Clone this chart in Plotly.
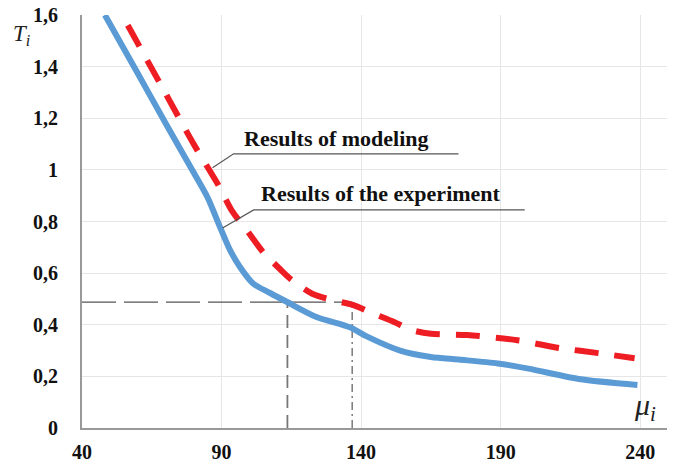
import plotly.graph_objects as go

# Blue solid curve
blue_x = [48.2, 60, 70, 80, 85, 89, 93, 96.6, 101.3, 107.4, 113.5, 124, 136, 142, 154, 165, 175, 189, 200, 218, 239]
blue_y = [1.6, 1.373, 1.18, 0.99, 0.893, 0.79, 0.69, 0.624, 0.56, 0.523, 0.488, 0.43, 0.39, 0.355, 0.30, 0.275, 0.265, 0.25, 0.23, 0.19, 0.167]

# Red dashed curve
red_x = [56.4, 70, 80, 88.9, 93.8, 99, 105, 111, 115, 122.5, 130, 137, 144, 152, 158, 165, 178, 196, 211, 225, 238]
red_y = [1.56, 1.295, 1.10, 0.94, 0.84, 0.767, 0.68, 0.615, 0.575, 0.52, 0.495, 0.477, 0.445, 0.41, 0.38, 0.365, 0.36, 0.34, 0.31, 0.29, 0.27]

# reference (guide) lines
ref_level = 0.488
ref_x1 = 113.6
ref_x2 = 136.8

x_ticks = [40, 90, 140, 190, 240]
y_ticks = [0, 0.2, 0.4, 0.6, 0.8, 1.0, 1.2, 1.4, 1.6]
y_tick_labels = ["0", "0,2", "0,4", "0,6", "0,8", "1", "1,2", "1,4", "1,6"]

label_model = "Results of modeling"
label_exp = "Results of the experiment"

fig = go.Figure()

# guide lines
fig.add_trace(go.Scatter(x=[40, ref_x2], y=[ref_level, ref_level], mode="lines",
                         line=dict(color="#555555", width=1.2, dash="34px,8px"),
                         showlegend=False, hoverinfo="skip"))
fig.add_trace(go.Scatter(x=[ref_x1, ref_x1], y=[0, ref_level], mode="lines",
                         line=dict(color="#777777", width=1.8, dash="13px,7px"),
                         showlegend=False, hoverinfo="skip"))
fig.add_trace(go.Scatter(x=[ref_x2, ref_x2], y=[0, ref_level], mode="lines",
                         line=dict(color="#666666", width=1.3, dash="8px,4px,2px,4px"),
                         showlegend=False, hoverinfo="skip"))

fig.add_trace(go.Scatter(x=blue_x, y=blue_y, mode="lines",
                         line=dict(color="#5B9BD5", width=6, shape="spline", smoothing=0.8),
                         showlegend=False))
fig.add_trace(go.Scatter(x=red_x, y=red_y, mode="lines",
                         line=dict(color="#EE1D23", width=6, shape="spline", smoothing=0.8,
                                   dash="24px,16px"),
                         showlegend=False))

def px_to_x(px):
    return 40 + (px - 82) / 2.78
def px_to_y(py):
    return (428 - py) / 258.0

lead1 = [(212, 168), (233, 154), (457, 154)]
lead2 = [(222, 228), (253, 210), (523, 210)]
for lead in (lead1, lead2):
    fig.add_trace(go.Scatter(x=[px_to_x(p[0]) for p in lead], y=[px_to_y(p[1]) for p in lead],
                             mode="lines", line=dict(color="#555555", width=1.2),
                             showlegend=False, hoverinfo="skip"))

font_bold = dict(family="Liberation Serif", size=22, color="#111111", weight="bold")
fig.add_annotation(x=px_to_x(241), y=px_to_y(153), text=label_model, showarrow=False,
                   xanchor="left", yanchor="bottom", font=font_bold)
fig.add_annotation(x=px_to_x(258), y=px_to_y(208), text=label_exp, showarrow=False,
                   xanchor="left", yanchor="bottom", font=font_bold)

# axis titles
fig.add_annotation(xref="paper", yref="paper", x=-0.122, y=0.99, text="<i>T</i><sub><i>i</i></sub>",
                   showarrow=False, xanchor="left", yanchor="top",
                   font=dict(family="Liberation Serif", size=23, color="#222222"))
fig.add_annotation(x=px_to_x(630), y=px_to_y(428), text="<i>μ</i><sub><i>i</i></sub>",
                   showarrow=False, xanchor="left", yanchor="bottom",
                   font=dict(family="Liberation Serif", size=30, color="#222222"))

tickfont = dict(family="Liberation Serif", size=20, color="#111111", weight="bold")
fig.update_layout(
    width=677, height=466,
    margin=dict(l=82, r=10, t=15, b=38),
    plot_bgcolor="white", paper_bgcolor="white",
    xaxis=dict(range=[40, 249.6], tickvals=x_ticks, ticktext=[str(v) for v in x_ticks],
               showgrid=True, gridcolor="#E6E6E6", gridwidth=1,
               showline=True, linecolor="#999999", linewidth=2,
               zeroline=False, tickfont=tickfont, ticks="", ticklabelstandoff=5,
               automargin=False),
    yaxis=dict(range=[0, 1.6], tickvals=y_ticks, ticktext=y_tick_labels,
               showgrid=True, gridcolor="#E6E6E6", gridwidth=1,
               showline=True, linecolor="#999999", linewidth=2,
               zeroline=False, tickfont=tickfont, ticks="", ticklabelstandoff=18,
               automargin=False),
)

fig.write_html("out.html", config={"displayModeBar": False},
               post_script="document.body.style.margin='0';document.body.style.padding='0';")
